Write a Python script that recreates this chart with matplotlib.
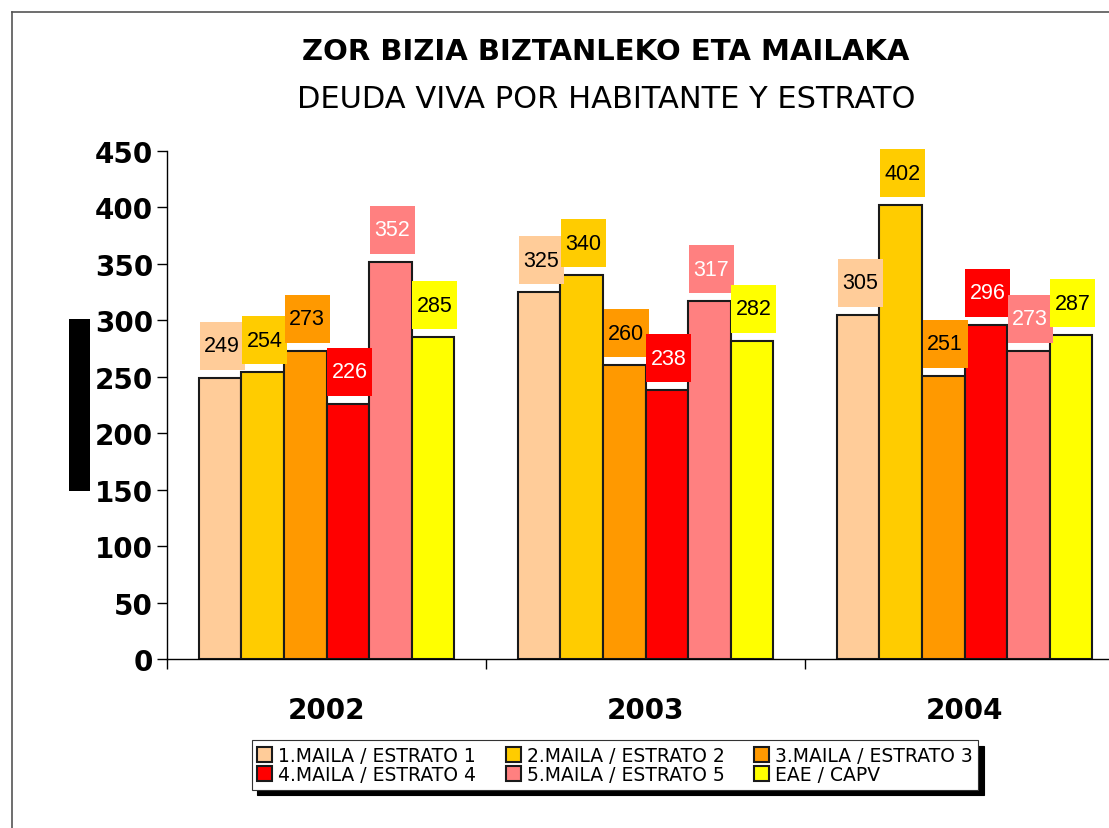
import matplotlib
matplotlib.use("Agg")
import matplotlib.pyplot as plt
from matplotlib.patches import Rectangle
from matplotlib.lines import Line2D
import numpy as np

years = ['2002', '2003', '2004']
series_names = ['1.MAILA / ESTRATO 1', '2.MAILA / ESTRATO 2', '3.MAILA / ESTRATO 3',
                '4.MAILA / ESTRATO 4', '5.MAILA / ESTRATO 5', 'EAE / CAPV']
estrato1 = [249, 325, 305]
estrato2 = [254, 340, 402]
estrato3 = [273, 260, 251]
estrato4 = [226, 238, 296]
estrato5 = [352, 317, 273]
eae = [285, 282, 287]
series = [estrato1, estrato2, estrato3, estrato4, estrato5, eae]
colors = ['#FFCC99', '#FFCC00', '#FF9900', '#FF0000', '#FF8080', '#FFFF00']
label_colors = ['black', 'black', 'black', 'white', 'white', 'black']

W, H = 1109, 829
fig = plt.figure(figsize=(W / 100, H / 100), dpi=100)
fig.patch.set_facecolor('white')

# outer frame lines
fig.add_artist(Line2D([12 / W, 1.0], [1 - 13 / H, 1 - 13 / H], transform=fig.transFigure, color='#555555', lw=1.2))
fig.add_artist(Line2D([12 / W, 12 / W], [0, 1 - 13 / H], transform=fig.transFigure, color='#555555', lw=1.2))

ax_l, ax_r, ax_t, ax_b = 167, 1124, 152, 660
ax = fig.add_axes([ax_l / W, 1 - ax_b / H, (ax_r - ax_l) / W, (ax_b - ax_t) / H])

ymax = 450
ax.set_xlim(-0.5, 2.5)
ax.set_ylim(0, ymax)
px_y = ymax / (ax_b - ax_t)          # data units per pixel (y)
px_x = 3.0 / (ax_r - ax_l)           # data units per pixel (x)

x = np.arange(len(years))
n = len(series)
bw = 0.8 / n
handles = []
box_w, box_h, gap, shift = 45, 48, 8, 2
for i, (vals, c, lc) in enumerate(zip(series, colors, label_colors)):
    pos = x - 0.4 + bw * (i + 0.5)
    b = ax.bar(pos, vals, width=bw, color=c, edgecolor='#1a1a1a', linewidth=1.5, label=series_names[i], zorder=2)
    handles.append(b)
    for p, v in zip(pos, vals):
        cx = p + shift * px_x
        y0 = v + gap * px_y
        ax.add_patch(Rectangle((cx - box_w / 2 * px_x, y0), box_w * px_x, box_h * px_y,
                               facecolor=c, edgecolor='none', zorder=3, clip_on=False))
        ax.text(cx, y0 + box_h / 2 * px_y, str(v), ha='center', va='center', fontsize=15.5,
                color=lc, family='Liberation Sans', zorder=4)

ax.set_yticks(np.arange(0, 451, 50))
for s in ['top', 'right']:
    ax.spines[s].set_visible(False)
ax.spines['left'].set_linewidth(1.0)
ax.spines['bottom'].set_linewidth(1.0)
ax.tick_params(axis='y', length=7, width=1, labelsize=20, pad=3)
for lab in ax.get_yticklabels():
    lab.set_fontweight('bold')
ax.set_xticks(x)
ax.set_xticklabels(years, fontsize=20, fontweight='bold')
ax.tick_params(axis='x', which='major', length=0, pad=27)
ax.set_xticks([-0.5, 0.5, 1.5], minor=True)
ax.tick_params(axis='x', which='minor', length=7, width=1)

# blocked-out axis label
fig.add_artist(Rectangle((69 / W, 1 - 492 / H), 21 / W, 172 / H, transform=fig.transFigure,
                         facecolor='black', edgecolor='none'))

fig.text(606 / W, 1 - 52 / H, 'ZOR BIZIA BIZTANLEKO ETA MAILAKA', ha='center', va='center',
         fontsize=21, fontweight='bold')
fig.text(606 / W, 1 - 100 / H, 'DEUDA VIVA POR HABITANTE Y ESTRATO', ha='center', va='center',
         fontsize=22)

order = [0, 3, 1, 4, 2, 5]
leg = fig.legend([handles[i] for i in order], [series_names[i] for i in order],
                 loc='center', bbox_to_anchor=(615 / W, 1 - 766 / H), bbox_transform=fig.transFigure,
                 ncol=3, fontsize=13.5, frameon=True, fancybox=False,
                 shadow={'color': 'black', 'alpha': 1.0, 'ox': 4, 'oy': -4},
                 handlelength=0.8, handleheight=0.9, handletextpad=0.3,
                 columnspacing=1.6, labelspacing=0.0, borderpad=0.3)
leg.get_frame().set_edgecolor('#333333')
leg.get_frame().set_linewidth(0.8)

fig.savefig('out.png', dpi=100)
